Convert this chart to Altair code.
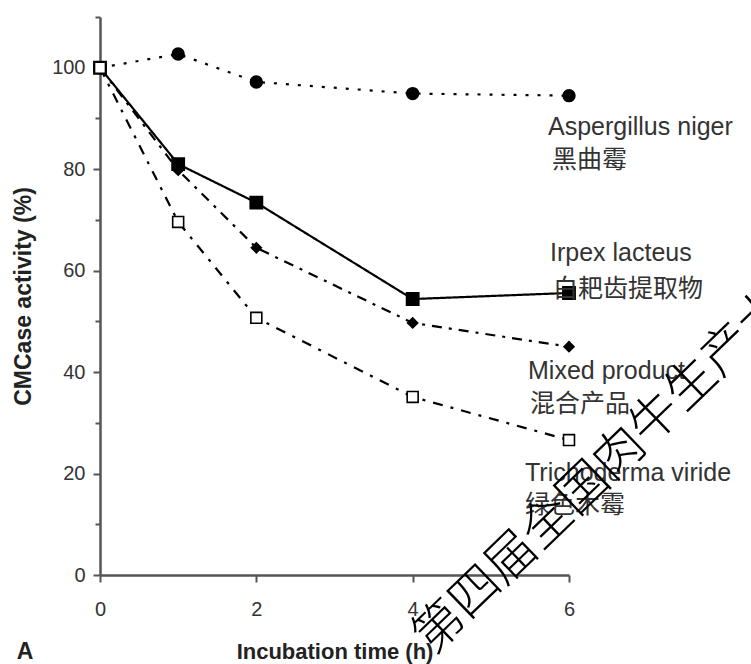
import altair as alt
import pandas as pd

# ---- data ----
times = [0, 1, 2, 4, 6]
aspergillus = [100, 102.7, 97.2, 94.9, 94.5]
irpex = [100, 81.0, 73.4, 54.4, 55.6]
mixed = [100, 79.8, 64.5, 49.7, 45.0]
trichoderma = [100, 69.6, 50.7, 35.1, 26.6]

series_names = ["Aspergillus niger", "Irpex lacteus", "Mixed product", "Trichoderma viride"]
series_cn = ["黑曲霉", "白耙齿提取物", "混合产品", "绿色木霉"]
series_values = [aspergillus, irpex, mixed, trichoderma]

x_ticks = [0, 2, 4, 6]
y_ticks = [0, 10, 20, 30, 40, 50, 60, 70, 80, 90, 100, 110]

x_title = "Incubation time (h)"
y_title = "CMCase activity (%)"
panel_label = "A"
watermark = "第四届全国肉牛生产大会"

rows = []
for name, cn, vals in zip(series_names, series_cn, series_values):
    for t, v in zip(times, vals):
        rows.append({"series": name, "cn": cn, "time": t, "value": v})
df = pd.DataFrame(rows)

# ---- styling ----
W, H = 469, 558
LATIN = "Liberation Sans, Arial, Helvetica, sans-serif"
CJK = "Noto Sans CJK SC"

X = alt.X(
    "time:Q",
    scale=alt.Scale(domain=[0, 6], nice=False, zero=False),
    axis=alt.Axis(
        values=x_ticks, title=x_title, grid=False, tickSize=7, tickWidth=2,
        tickColor="#555", domainColor="#555", domainWidth=2.5,
        labelFont=LATIN, labelFontSize=20, labelColor="#333", labelPadding=17,
        titleFont=LATIN, titleFontSize=22, titleFontWeight="bold", titleColor="#222",
        titlePadding=22, labelFlush=False,
    ),
)
Y = alt.Y(
    "value:Q",
    scale=alt.Scale(domain=[0, 110], nice=False),
    axis=alt.Axis(
        values=y_ticks, title=y_title, grid=False,
        labelExpr="datum.value % 20 == 0 && datum.value <= 100 ? datum.label : ''",
        tickSize={"condition": {"test": "datum.value % 20 == 0", "value": 7}, "value": 5},
        tickWidth=2, tickColor="#555", domainColor="#555", domainWidth=2.5,
        labelFont=LATIN, labelFontSize=20, labelColor="#333", labelPadding=8,
        titleFont=LATIN, titleFontSize=23, titleFontWeight="bold", titleColor="#222",
        titlePadding=16, labelFlush=False,
    ),
)

line_dash = {
    "Aspergillus niger": [3, 9],
    "Irpex lacteus": [1, 0],
    "Mixed product": [10, 7, 3, 7],
    "Trichoderma viride": [10, 8, 3, 8],
}
marker = {
    "Aspergillus niger": dict(shape="circle", size=140, fill="black"),
    "Irpex lacteus": dict(shape="square", size=150, fill="black"),
    "Mixed product": dict(shape="diamond", size=100, fill="black"),
    "Trichoderma viride": dict(shape="square", size=120, fill="white"),
}
# label offsets (px) from each series' last point: (dx_en, dy_en, dx_cn, dy_cn)
label_off = {
    "Aspergillus niger": (-21, 31, -17, 64),
    "Irpex lacteus": (-19, -40, -16, -4),
    "Mixed product": (-41, 24, -39, 57),
    "Trichoderma viride": (-44, 33, -44, 65),
}

base = alt.Chart(df)
layers = []
for name in series_names:
    layers.append(
        base.transform_filter(alt.datum.series == name)
        .mark_line(color="black", strokeWidth=2.2, strokeDash=line_dash[name])
        .encode(x=X, y=Y)
    )
for name in ["Irpex lacteus", "Mixed product", "Aspergillus niger", "Trichoderma viride"]:
    m = marker[name]
    layers.append(
        base.transform_filter(alt.datum.series == name)
        .mark_point(shape=m["shape"], filled=True, size=m["size"], fill=m["fill"],
                    stroke="black", strokeWidth=1.6, opacity=1)
        .encode(x=X, y=Y)
    )
for name in series_names:
    dxe, dye, dxc, dyc = label_off[name]
    last = base.transform_filter((alt.datum.series == name) & (alt.datum.time == times[-1]))
    layers.append(
        last.mark_text(align="left", baseline="middle", font=LATIN, fontSize=25,
                       color="#333", dx=dxe, dy=dye)
        .encode(x=X, y=Y, text="series:N")
    )
    layers.append(
        last.mark_text(align="left", baseline="middle", font=CJK, fontSize=25,
                       color="#333", dx=dxc, dy=dyc)
        .encode(x=X, y=Y, text="cn:N")
    )

layers.append(
    alt.Chart(pd.DataFrame({"t": [panel_label]}))
    .mark_text(font=LATIN, fontSize=23, fontWeight="bold", color="#222",
               align="center", baseline="middle")
    .encode(text="t:N", x=alt.value(-75), y=alt.value(635))
)
layers.append(
    alt.Chart(pd.DataFrame({"t": [watermark]}))
    .mark_text(font=CJK, fontSize=50, fontWeight=300, color="black",
               align="center", baseline="middle", angle=316)
    .encode(text="t:N", x=alt.value(520), y=alt.value(437))
)

chart = (
    alt.layer(*layers)
    .properties(
        width=W, height=H,
        padding={"left": 100, "top": 17, "right": 182, "bottom": 89},
        autosize=alt.AutoSizeParams(type="none"),
        background="white",
    )
    .configure_view(stroke=None)
)

chart.save("out.html", embed_options={"renderer": "svg", "actions": False})
